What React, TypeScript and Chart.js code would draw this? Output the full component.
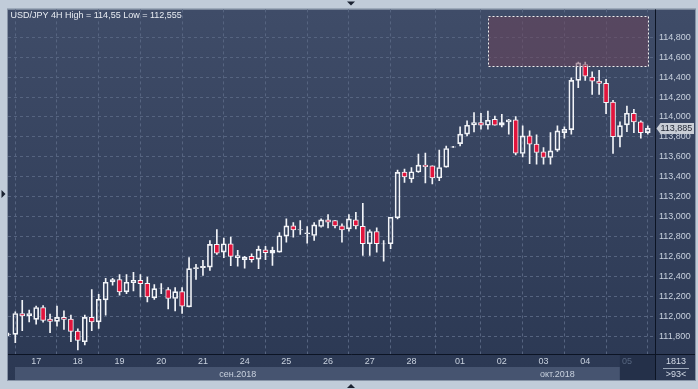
import React, { useEffect, useRef } from "react";
import { Chart, registerables } from "chart.js";

Chart.register(...registerables);

// ---- data (USD/JPY, 4H candles) ----
const OPEN = [
  111.817, 111.817, 112.027, 112.003, 111.967, 112.087, 111.97, 111.947, 111.987, 111.97,
  111.85, 111.743, 111.987, 111.943, 112.163, 112.343, 112.367, 112.243, 112.337, 112.36,
  112.33, 112.183, 112.28, 112.267, 112.177, 112.247, 112.093, 112.477, 112.487, 112.493,
  112.72, 112.643, 112.727, 112.587, 112.567, 112.6, 112.573, 112.667, 112.633, 112.643,
  112.803, 112.907, 112.865, 112.827, 112.81, 112.9, 112.967, 112.96, 112.907, 112.877,
  112.967, 112.903, 112.727, 112.85, 112.725, 112.727, 112.987, 113.447, 113.377, 113.447,
  113.517, 113.51, 113.387, 113.497, 113.697, 113.733, 113.827, 113.92, 113.943, 113.917,
  113.977, 113.917, 113.95, 113.97, 113.633, 113.81, 113.727, 113.65, 113.593, 113.667,
  113.843, 113.873, 114.367, 114.527, 114.4, 114.36, 114.337, 114.15, 113.8, 113.92,
  114.037, 113.95, 113.843,
];
const HIGH = [
  111.83, 112.043, 112.16, 112.06, 112.1, 112.107, 112.02, 112.1, 112.053, 112.01,
  111.873, 112.01, 112.267, 112.22, 112.38, 112.38, 112.417, 112.417, 112.44, 112.417,
  112.393, 112.317, 112.327, 112.287, 112.287, 112.287, 112.587, 112.52, 112.56, 112.76,
  112.87, 112.783, 112.793, 112.66, 112.6, 112.627, 112.703, 112.7, 112.693, 112.84,
  112.977, 112.94, 112.96, 112.9, 112.94, 112.977, 113.02, 112.963, 112.927, 113.02,
  113.043, 113.133, 112.867, 112.887, 112.76, 112.993, 113.467, 113.477, 113.493, 113.627,
  113.637, 113.51, 113.667, 113.707, 113.705, 113.9, 113.96, 114.043, 114.037, 114.06,
  114.01, 114.027, 113.977, 114.003, 113.91, 113.86, 113.82, 113.693, 113.843, 113.91,
  113.9, 114.393, 114.55, 114.55, 114.453, 114.467, 114.377, 114.167, 113.95, 114.11,
  114.077, 113.96, 113.91,
];
const LOW = [
  111.805, 111.733, 111.853, 111.943, 111.92, 111.94, 111.833, 111.9, 111.867, 111.743,
  111.66, 111.71, 111.853, 111.877, 112.01, 112.31, 112.21, 112.227, 112.253, 112.193,
  112.143, 112.167, 112.227, 112.073, 112.053, 112.027, 112.093, 112.37, 112.41, 112.46,
  112.62, 112.587, 112.507, 112.503, 112.483, 112.543, 112.477, 112.567, 112.51, 112.643,
  112.743, 112.793, 112.82, 112.733, 112.76, 112.893, 112.887, 112.887, 112.743, 112.853,
  112.877, 112.61, 112.61, 112.643, 112.553, 112.677, 112.977, 113.343, 113.343, 113.443,
  113.337, 113.327, 113.36, 113.497, 113.695, 113.71, 113.81, 113.85, 113.877, 113.877,
  113.917, 113.9, 113.827, 113.62, 113.6, 113.53, 113.527, 113.527, 113.527, 113.653,
  113.787, 113.827, 114.293, 114.367, 114.227, 114.227, 114.033, 113.633, 113.7, 113.853,
  113.843, 113.787, 113.827,
];
const CLOSE = [
  111.82, 112.027, 112.003, 112.027, 112.087, 111.957, 111.947, 111.987, 111.967, 111.847,
  111.757, 111.987, 111.943, 112.17, 112.34, 112.367, 112.243, 112.34, 112.36, 112.327,
  112.193, 112.277, 112.283, 112.177, 112.247, 112.1, 112.477, 112.487, 112.5, 112.72,
  112.633, 112.727, 112.6, 112.607, 112.593, 112.567, 112.67, 112.637, 112.66, 112.807,
  112.907, 112.867, 112.87, 112.837, 112.917, 112.967, 112.943, 112.907, 112.867, 112.977,
  112.907, 112.727, 112.85, 112.727, 112.727, 112.993, 113.443, 113.397, 113.45, 113.517,
  113.5, 113.387, 113.493, 113.683, 113.7, 113.827, 113.917, 113.943, 113.917, 113.967,
  113.917, 113.943, 113.97, 113.637, 113.81, 113.727, 113.643, 113.593, 113.66, 113.86,
  113.877, 114.367, 114.543, 114.41, 114.36, 114.337, 114.143, 113.803, 113.913, 114.037,
  113.95, 113.843, 113.885,
];

const DAY_TICKS = [4, 10, 16, 22, 28, 34, 40, 46, 52, 58, 65, 71, 77, 83, 89];
const DAY_LABELS = ["17", "18", "19", "20", "21", "24", "25", "26", "27", "28", "01", "02", "03", "04", "05"];
const MONTH_TICKS = [33, 79];
const MONTH_LABELS = ["сен.2018", "окт.2018"];
const PRICE_TICKS = [111.8, 112.0, 112.2, 112.4, 112.6, 112.8, 113.0, 113.2, 113.4, 113.6, 113.8, 114.0, 114.2, 114.4, 114.6, 114.8];
const TITLE = "USD/JPY 4H High = 114,55 Low = 112,555";
const SELECTION_X = [69.06, 92.08];
const SELECTION_Y = [114.51, 115.01];
const BAR_INFO = ["1813", ">93<"];

const X_RANGE = [-0.05, 93.04];
const Y_RANGE = [111.62, 115.08];

const FONT = "'Liberation Sans', Arial, sans-serif";
const RED = "#e2143c";
const WHITE = "#f2f4f8";
const LABEL = "#c8d1de";
const GRID = "#566480";

const fmt = (v: number) => v.toFixed(3).replace(".", ",");

const chromePlugin = {
  id: "chrome",
  beforeDraw(chart: any) {
    const ctx = chart.ctx as CanvasRenderingContext2D;
    const { width, height, chartArea } = chart;
    const x2 = chart.scales.x2;
    const xs = chart.scales.x;
    ctx.save();
    ctx.fillStyle = "#c1ccd9";
    ctx.fillRect(0, 0, width, height);
    const left = chartArea.left;
    const top = chartArea.top;
    const right = width - 3;
    const bottom = x2.bottom;
    const g = ctx.createLinearGradient(0, top, 0, bottom);
    g.addColorStop(0, "#3f4c68");
    g.addColorStop(1, "#2b3853");
    ctx.fillStyle = g;
    ctx.fillRect(left, top, right - left, bottom - top);
    ctx.strokeStyle = "#8793a6";
    ctx.lineWidth = 1;
    ctx.strokeRect(left - 0.5, top - 0.5, right - left + 1, bottom - top + 1);
    // month band
    const cur = xs.getPixelForValue(DAY_TICKS[DAY_TICKS.length - 1]) - 7;
    ctx.fillStyle = "#465470";
    ctx.fillRect(left + 7, x2.top, cur - left - 7, x2.bottom - x2.top);
    // current day box
    ctx.fillStyle = "#243049";
    ctx.fillRect(cur, chartArea.bottom, chartArea.right - cur, bottom - chartArea.bottom);
    // window triangles
    ctx.fillStyle = "#1a2130";
    const mid = width / 2 + 2;
    ctx.beginPath();
    ctx.moveTo(mid - 4, 1.5);
    ctx.lineTo(mid + 4, 1.5);
    ctx.lineTo(mid, 5.5);
    ctx.closePath();
    ctx.fill();
    ctx.beginPath();
    ctx.moveTo(mid - 4, 388);
    ctx.lineTo(mid + 4, 388);
    ctx.lineTo(mid, 384);
    ctx.closePath();
    ctx.fill();
    ctx.beginPath();
    ctx.moveTo(1.5, 190);
    ctx.lineTo(1.5, 198);
    ctx.lineTo(5.5, 194);
    ctx.closePath();
    ctx.fill();
    ctx.restore();
  },
  afterDatasetsDraw(chart: any) {
    const ctx = chart.ctx as CanvasRenderingContext2D;
    const xs = chart.scales.x;
    const ys = chart.scales.y;
    const x0 = Math.round(xs.getPixelForValue(SELECTION_X[0])) + 0.5;
    const x1 = Math.round(xs.getPixelForValue(SELECTION_X[1])) + 0.5;
    const y0 = Math.round(ys.getPixelForValue(SELECTION_Y[1])) + 0.5;
    const y1 = Math.round(ys.getPixelForValue(SELECTION_Y[0])) + 0.5;
    ctx.save();
    ctx.fillStyle = "rgba(112,68,90,0.5)";
    ctx.fillRect(x0, y0, x1 - x0, y1 - y0);
    ctx.strokeStyle = "#f0f0f0";
    ctx.lineWidth = 1;
    ctx.setLineDash([2, 2]);
    ctx.strokeRect(x0, y0, x1 - x0, y1 - y0);
    ctx.restore();
  },
  afterDraw(chart: any) {
    const ctx = chart.ctx as CanvasRenderingContext2D;
    const { width, chartArea } = chart;
    const ys = chart.scales.y;
    const x2 = chart.scales.x2;
    const right = width - 3;
    ctx.save();
    // axis lines
    ctx.strokeStyle = "#0c1424";
    ctx.lineWidth = 1;
    ctx.beginPath();
    ctx.moveTo(chartArea.right + 0.5, chartArea.top);
    ctx.lineTo(chartArea.right + 0.5, x2.bottom);
    ctx.moveTo(chartArea.left, chartArea.bottom + 0.5);
    ctx.lineTo(right, chartArea.bottom + 0.5);
    ctx.stroke();
    // title
    ctx.font = `9px ${FONT}`;
    ctx.fillStyle = "#e8ecf2";
    ctx.textBaseline = "middle";
    ctx.textAlign = "left";
    ctx.fillText(TITLE, chartArea.left + 2.5, 15.5);
    // last price tag
    const last = CLOSE[CLOSE.length - 1];
    const py = Math.round(ys.getPixelForValue(last)) + 0.5;
    const tx = chartArea.right + 1.5;
    ctx.fillStyle = "#c9ced6";
    ctx.beginPath();
    ctx.moveTo(tx, py);
    ctx.lineTo(tx + 4, py - 5.5);
    ctx.lineTo(right - 1, py - 5.5);
    ctx.lineTo(right - 1, py + 5.5);
    ctx.lineTo(tx + 4, py + 5.5);
    ctx.closePath();
    ctx.fill();
    ctx.fillStyle = "#1d2330";
    ctx.fillText(fmt(last), tx + 4, py + 0.5);
    // bars info
    const cx = (chartArea.right + right) / 2 + 1;
    ctx.textAlign = "center";
    ctx.fillStyle = "#d3dae6";
    ctx.fillText(BAR_INFO[0], cx, 362);
    ctx.fillText(BAR_INFO[1], cx, 374.5);
    ctx.strokeStyle = "#9aa6b8";
    ctx.beginPath();
    ctx.moveTo(cx - 13, 368.5);
    ctx.lineTo(cx + 13, 368.5);
    ctx.stroke();
    ctx.restore();
  },
};

export default function App() {
  const ref = useRef<HTMLCanvasElement | null>(null);

  useEffect(() => {
    if (!ref.current) return;
    const idx = OPEN.map((_, i) => i);
    const bodies = idx.map((i) => ({ x: i, y: [OPEN[i], CLOSE[i]] }));
    const upper = idx.map((i) => ({ x: i, y: [Math.max(OPEN[i], CLOSE[i]), HIGH[i]] }));
    const lower = idx.map((i) => ({ x: i, y: [LOW[i], Math.min(OPEN[i], CLOSE[i])] }));
    const bodyColors = idx.map((i) => (CLOSE[i] < OPEN[i] ? RED : "rgba(0,0,0,0)"));

    const chart = new Chart(ref.current, {
      type: "bar",
      data: {
        datasets: [
          {
            data: bodies as any,
            backgroundColor: bodyColors,
            borderColor: WHITE,
            borderWidth: 1,
            borderSkipped: false,
            barThickness: 5,
            grouped: false,
          } as any,
          {
            data: upper as any,
            backgroundColor: WHITE,
            borderWidth: 0,
            barThickness: 1,
            grouped: false,
          } as any,
          {
            data: lower as any,
            backgroundColor: WHITE,
            borderWidth: 0,
            barThickness: 1,
            grouped: false,
          } as any,
        ],
      },
      options: {
        animation: false,
        responsive: true,
        maintainAspectRatio: false,
        devicePixelRatio: 1,
        events: [],
        layout: { padding: { left: 8, top: 8, right: 3, bottom: 9 } },
        plugins: { legend: { display: false }, tooltip: { enabled: false } },
        scales: {
          x: {
            type: "linear",
            position: "bottom",
            weight: 1,
            offset: false,
            min: X_RANGE[0],
            max: X_RANGE[1],
            afterBuildTicks: (s: any) => {
              s.ticks = DAY_TICKS.map((v) => ({ value: v }));
            },
            afterFit: (s: any) => {
              s.height = 13;
            },
            grid: { display: true, color: GRID, drawTicks: false, lineWidth: 1 },
            border: { display: false, dash: [3, 3] },
            ticks: {
              autoSkip: false,
              maxRotation: 0,
              minRotation: 0,
              padding: 2,
              font: { family: FONT, size: 9 },
              color: (c: any) => (c.index === DAY_TICKS.length - 1 ? "#56657f" : LABEL),
              callback: (_v: any, i: number) => DAY_LABELS[i],
            },
          },
          x2: {
            type: "linear",
            position: "bottom",
            weight: 2,
            offset: false,
            min: X_RANGE[0],
            max: X_RANGE[1],
            afterBuildTicks: (s: any) => {
              s.ticks = MONTH_TICKS.map((v) => ({ value: v }));
            },
            afterFit: (s: any) => {
              s.height = 13;
            },
            grid: { display: false, drawTicks: false },
            border: { display: false },
            ticks: {
              autoSkip: false,
              maxRotation: 0,
              minRotation: 0,
              padding: 2,
              font: { family: FONT, size: 9 },
              color: LABEL,
              callback: (_v: any, i: number) => MONTH_LABELS[i],
            },
          },
          y: {
            type: "linear",
            position: "right",
            min: Y_RANGE[0],
            max: Y_RANGE[1],
            afterBuildTicks: (s: any) => {
              s.ticks = PRICE_TICKS.map((v) => ({ value: v }));
            },
            afterFit: (s: any) => {
              s.width = 40;
            },
            grid: { display: true, color: GRID, drawTicks: false, lineWidth: 1 },
            border: { display: false, dash: [3, 3] },
            ticks: {
              padding: 4,
              font: { family: FONT, size: 9 },
              color: LABEL,
              callback: (v: any) => fmt(Number(v)),
            },
          },
        },
      },
      plugins: [chromePlugin],
    } as any);

    return () => chart.destroy();
  }, []);

  return (
    <div style={{ position: "fixed", left: 0, top: 0, width: 698, height: 389 }}>
      <canvas ref={ref} />
    </div>
  );
}
